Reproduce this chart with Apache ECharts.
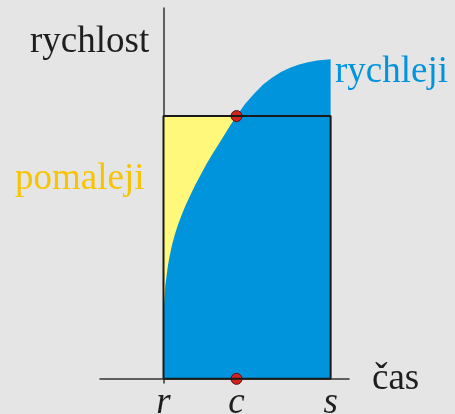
<!DOCTYPE html>
<html>
<head>
<meta charset="utf-8">
<script src="https://cdn.jsdelivr.net/npm/echarts@6/dist/echarts.min.js"></script>
<style>
  html, body { margin: 0; padding: 0; background: #e5e5e5; }
  #target { width: 455px; height: 414px; }
</style>
</head>
<body>
<div id="target"></div>
<script>
// tick marks on the time axis
const tickNames = ['r', 'c', 's']
const tickValues = [0, 4.37, 10]

// speed f(t)
const curveTime = [0, 0.01, 0.03, 0.07, 0.11, 0.19, 0.27, 0.38, 0.51, 0.67, 0.86, 1.08, 1.33, 1.61, 1.90, 2.21, 2.54, 2.89, 3.26, 3.64, 4.01, 4.37,
    4.88, 5.42, 5.96, 6.49, 7.03, 7.57, 8.11, 8.65, 9.18, 10]
const curveSpeed = [1.37, 1.99, 2.31, 2.62, 2.93, 3.25, 3.56, 3.87, 4.19, 4.50, 4.81, 5.12, 5.44, 5.75, 6.06, 6.37, 6.69, 7.00, 7.31, 7.63, 7.94, 8.22,
    8.60, 8.92, 9.21, 9.42, 9.60, 9.73, 9.83, 9.90, 9.96, 10]

// f(c), height of the rectangle
const rectSpeed = 8.22

const serif = "'Liberation Serif', 'DejaVu Serif', serif"
const blue = '#0094dc'
const yellow = '#fff87a'

const mChart = echarts.init(document.getElementById('target'))

const r = tickValues[0]
const c = tickValues[1]
const s = tickValues[2]

const label = (text, x, y, color, italic) => ({
    type: 'text',
    x: x,
    y: y,
    style: {
        text: text,
        fill: color,
        font: (italic ? 'italic ' : '') + '37px ' + serif,
        verticalAlign: 'middle'
    }
})

const options = {
    backgroundColor: '#e5e5e5',
    animation: false,
    grid: { left: 100, right: 106, top: 8, bottom: 31, outerBoundsMode: 'none', containLabel: false },
    xAxis: {
        type: 'value',
        min: -3.8,
        max: 11.1,
        splitLine: { show: false },
        axisTick: { show: false },
        axisLine: { lineStyle: { color: '#333', width: 1.5 } },
        axisLabel: {
            customValues: tickValues,
            formatter: (v) => tickNames[tickValues.indexOf(v)],
            margin: 2,
            color: '#1e1e1e',
            fontFamily: serif,
            fontStyle: 'italic',
            fontSize: 37
        },
        name: 'čas',
        nameLocation: 'end',
        nameGap: 23,
        nameTextStyle: {
            color: '#1e1e1e',
            fontFamily: serif,
            fontSize: 37,
            padding: [0, 0, 4, 0]
        }
    },
    yAxis: {
        type: 'value',
        min: -0.13,
        max: 11.6,
        splitLine: { show: false },
        axisTick: { show: false },
        axisLabel: { show: false },
        axisLine: { lineStyle: { color: '#333', width: 1.5 } }
    },
    series: [
        {
            // žlutý obdélník
            type: 'line',
            data: [[r, rectSpeed], [s, rectSpeed]],
            symbol: 'none',
            lineStyle: { width: 0 },
            areaStyle: { color: yellow, opacity: 1 },
            z: 1
        },
        {
            // plocha pod křivkou
            type: 'line',
            data: curveTime.map((t, i) => [t, curveSpeed[i]]),
            smooth: false,
            symbol: 'none',
            lineStyle: { width: 0 },
            areaStyle: { color: blue, opacity: 1 },
            z: 2
        },
        {
            type: 'scatter',
            data: [[c, rectSpeed], [c, 0]],
            symbolSize: 11,
            itemStyle: { color: '#d4231c', borderColor: '#5a1010', borderWidth: 1, opacity: 1 },
            z: 3
        },
        {
            // obrys obdélníku
            type: 'line',
            data: [[r, 0], [r, rectSpeed], [s, rectSpeed], [s, 0], [r, 0]],
            symbol: 'none',
            lineStyle: { color: '#1a1a1a', width: 2 },
            z: 4
        }
    ],
    graphic: [
        label('rychlost', 30, 42, '#1e1e1e'),
        label('rychleji', 335, 72, blue),
        label('pomaleji', 15, 179, '#f6c400'),
        label('dráha', 228, 256, '#1e1e1e'),
        label('f', 213, 164, '#1e1e1e', true)
    ]
}

mChart.setOption(options)
</script>
</body>
</html>
